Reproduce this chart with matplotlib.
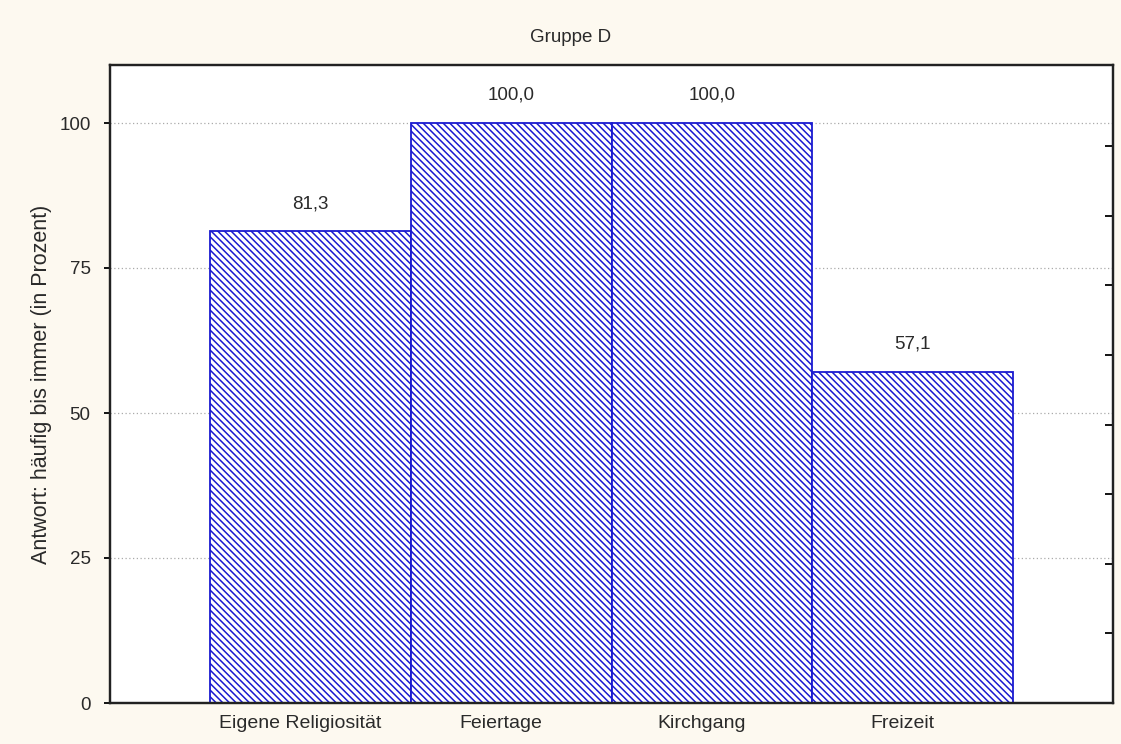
import numpy as np
import matplotlib.pyplot as plt
from matplotlib.transforms import ScaledTranslation

plt.rcParams['font.family'] = ['Liberation Sans', 'DejaVu Sans']
plt.rcParams['hatch.linewidth'] = 1.1

# data
categories = ['Eigene Religiosität', 'Feiertage', 'Kirchgang', 'Freizeit']
values = [81.3, 100.0, 100.0, 57.1]
labels = ['81,3', '100,0', '100,0', '57,1']

fig = plt.figure(figsize=(11.21, 7.44), dpi=100)
fig.patch.set_facecolor('#fdf9f0')
ax = fig.add_axes([110/1121, 41/744, 1003/1121, 638/744])
ax.set_facecolor('white')

x = np.arange(len(categories))
ax.bar(x, values, width=1.0, color='white', edgecolor='#1a1ad0',
       hatch='\\\\\\\\\\', linewidth=1.3, zorder=2)
for xi, v, lab in zip(x, values, labels):
    ax.annotate(lab, (xi, v), xytext=(0, 14), textcoords='offset points',
                ha='center', va='bottom', fontsize=13.5, color='#2a2a2a')

ax.set_xlim(-1, 4)
ax.set_ylim(0, 110)
ax.set_yticks([0, 25, 50, 75, 100])
ax.set_xticks(x)
ax.set_xticklabels(categories, color='#2a2a2a')
ax.tick_params(axis='y', direction='out', length=4, width=1.3, labelsize=13.5, pad=10,
               labelcolor='#2a2a2a')
ax.tick_params(axis='x', direction='in', length=3, width=1, labelsize=14, pad=9)
# category labels sit a little left of the bar centres
shift = ScaledTranslation(-10/100, 0, fig.dpi_scale_trans)
for lbl in ax.get_xticklabels():
    lbl.set_transform(lbl.get_transform() + shift)
ax.yaxis.grid(True, linestyle=(0, (1, 2)), color='#aaaaaa', linewidth=0.9, zorder=0)

# right side inner ticks
ax2 = ax.twinx()
ax2.set_ylim(0, 110)
ax2.set_yticks(np.arange(12, 100, 12))
ax2.set_yticklabels([])
ax2.tick_params(axis='y', direction='in', length=6, width=1.3)

for a in (ax, ax2):
    for s in a.spines.values():
        s.set_linewidth(1.6)
        s.set_color('#222222')

ax.set_ylabel('Antwort: häufig bis immer (in Prozent)', fontsize=15.5, labelpad=5,
              color='#2a2a2a')
fig.text(571/1121, 1 - 38/744, 'Gruppe D', ha='center', va='center', fontsize=13.5,
         color='#2a2a2a')

fig.savefig('out.png', dpi=100, facecolor=fig.get_facecolor())
